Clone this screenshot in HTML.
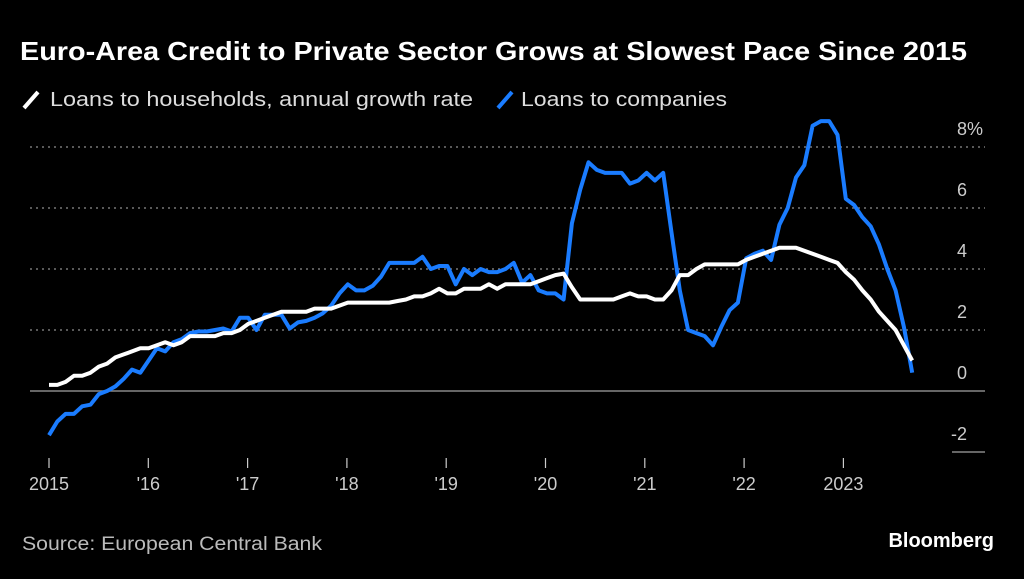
<!DOCTYPE html>
<html><head><meta charset="utf-8">
<style>
html,body{margin:0;padding:0;background:#000;}
body{width:1024px;height:574px;overflow:hidden;font-family:"Liberation Sans",sans-serif;}
</style></head>
<body>
<svg id="chart" width="1024" height="574" viewBox="0 0 1024 574" xmlns="http://www.w3.org/2000/svg">
<rect width="1024" height="574" fill="#000"/>
<text x="20" y="60" fill="#fff" font-size="26" font-weight="bold" textLength="947" lengthAdjust="spacingAndGlyphs">Euro-Area Credit to Private Sector Grows at Slowest Pace Since 2015</text>
<g>
<line x1="24" y1="108" x2="38" y2="92" stroke="#fff" stroke-width="4"/>
<text x="50" y="106" fill="#ddd" font-size="20" textLength="423" lengthAdjust="spacingAndGlyphs">Loans to households, annual growth rate</text>
<line x1="498" y1="108" x2="512" y2="92" stroke="#1a7cff" stroke-width="4"/>
<text x="521" y="106" fill="#ddd" font-size="20" textLength="206" lengthAdjust="spacingAndGlyphs">Loans to companies</text>
</g>
<g id="grid"></g>
<g id="xaxis"></g>
<g id="series"></g>
<text x="22" y="550" fill="#bbb" font-size="19" textLength="300" lengthAdjust="spacingAndGlyphs">Source: European Central Bank</text>
<text x="994" y="547" fill="#fff" font-size="20" font-weight="bold" text-anchor="end">Bloomberg</text>
</svg>
<script>
const yTicks = [-2, 0, 2, 4, 6, 8];
const yTickLabels = ["-2", "0", "2", "4", "6", "8%"];
const xTickYears = [2015, 2016, 2017, 2018, 2019, 2020, 2021, 2022, 2023];
const xTickLabels = ["2015", "'16", "'17", "'18", "'19", "'20", "'21", "'22", "2023"];
const households = [0.2,0.2,0.3,0.5,0.5,0.6,0.8,0.9,1.1,1.2,
1.3,1.4,1.4,1.5,1.6,1.5,1.6,1.8,1.8,1.8,
1.8,1.9,1.9,2.0,2.2,2.3,2.4,2.5,2.6,2.6,
2.6,2.6,2.7,2.7,2.7,2.8,2.9,2.9,2.9,2.9,
2.9,2.9,2.95,3.0,3.1,3.1,3.2,3.35,3.2,3.2,
3.35,3.35,3.35,3.5,3.35,3.5,3.5,3.5,3.5,3.6,
3.7,3.8,3.85,3.4,3.0,3.0,3.0,3.0,3.0,3.1,
3.2,3.1,3.1,3.0,3.0,3.3,3.8,3.8,4.0,4.15,
4.15,4.15,4.15,4.15,4.3,4.4,4.5,4.6,4.7,4.7,
4.7,4.6,4.5,4.4,4.3,4.2,3.9,3.65,3.3,3.0,
2.6,2.3,2.0,1.5,1.0];
const companies = [-1.45,-1.0,-0.75,-0.75,-0.5,-0.45,-0.1,0.0,0.15,0.4,
0.7,0.6,1.0,1.4,1.3,1.6,1.7,1.9,1.95,1.95,
2.0,2.05,1.95,2.4,2.4,2.0,2.5,2.5,2.5,2.05,
2.25,2.3,2.4,2.55,2.8,3.2,3.5,3.3,3.3,3.45,
3.75,4.2,4.2,4.2,4.2,4.4,4.0,4.1,4.1,3.5,
4.0,3.8,4.0,3.9,3.9,4.0,4.2,3.55,3.8,3.3,
3.2,3.2,3.0,5.5,6.6,7.5,7.25,7.15,7.15,7.15,
6.8,6.9,7.15,6.9,7.15,5.2,3.3,2.0,1.9,1.8,
1.5,2.1,2.65,2.9,4.35,4.5,4.6,4.3,5.45,6.0,
7.0,7.4,8.7,8.85,8.85,8.4,6.3,6.1,5.7,5.4,
4.8,4.0,3.3,2.1,0.6];

const NS = "http://www.w3.org/2000/svg";
function yScale(v){ return 391 - v * 30.5; }
function xScale(monthIndex){ return 49 + monthIndex * 8.3; }
function xYear(yr){ return 49 + (yr - 2015) * 99.3; }
function mk(tag, attrs, parent){
  const e = document.createElementNS(NS, tag);
  for (const k in attrs) e.setAttribute(k, attrs[k]);
  parent.appendChild(e);
  return e;
}
const grid = document.getElementById('grid');
yTicks.forEach((t, i) => {
  const y = yScale(t);
  let ln;
  if (t === 0) {
    ln = mk('line', {x1: 30, x2: 985, y1: y, y2: y, stroke: '#888', 'stroke-width': 1.5}, grid);
  } else if (t < 0) {
    ln = mk('line', {x1: 952, x2: 985, y1: y, y2: y, stroke: '#888', 'stroke-width': 1.5}, grid);
  } else {
    ln = mk('line', {x1: 30, x2: 985, y1: y, y2: y, stroke: '#777', 'stroke-width': 1.5, 'stroke-dasharray': '2,4'}, grid);
  }
  
  
  const tx = mk('text', {x: t < 0 ? 967 : 957, y: y - 12, fill: '#ccc', 'font-size': 18, 'text-anchor': t < 0 ? 'end' : 'start'}, grid);
  tx.textContent = yTickLabels[i];
  
  
});
const xaxis = document.getElementById('xaxis');
xTickYears.forEach((yr, i) => {
  const x = xYear(yr);
  const tk = mk('line', {x1: x, x2: x, y1: 458, y2: 468, stroke: '#ccc', 'stroke-width': 1.2}, xaxis);
  
  
  const tx = mk('text', {x: x, y: 490, fill: '#ccc', 'font-size': 18, 'text-anchor': 'middle'}, xaxis);
  tx.textContent = xTickLabels[i];
  
  
});
const series = document.getElementById('series');
function pathFor(vals){ return vals.map((v, i) => (i ? 'L' : 'M') + xScale(i).toFixed(1) + ',' + yScale(v).toFixed(1)).join(''); }
const pc = mk('path', {d: pathFor(companies), fill: 'none', stroke: '#1a7cff', 'stroke-width': 4, 'stroke-linejoin': 'round'}, series);


const ph = mk('path', {d: pathFor(households), fill: 'none', stroke: '#fff', 'stroke-width': 4, 'stroke-linejoin': 'round'}, series);


</script>
</body></html>
